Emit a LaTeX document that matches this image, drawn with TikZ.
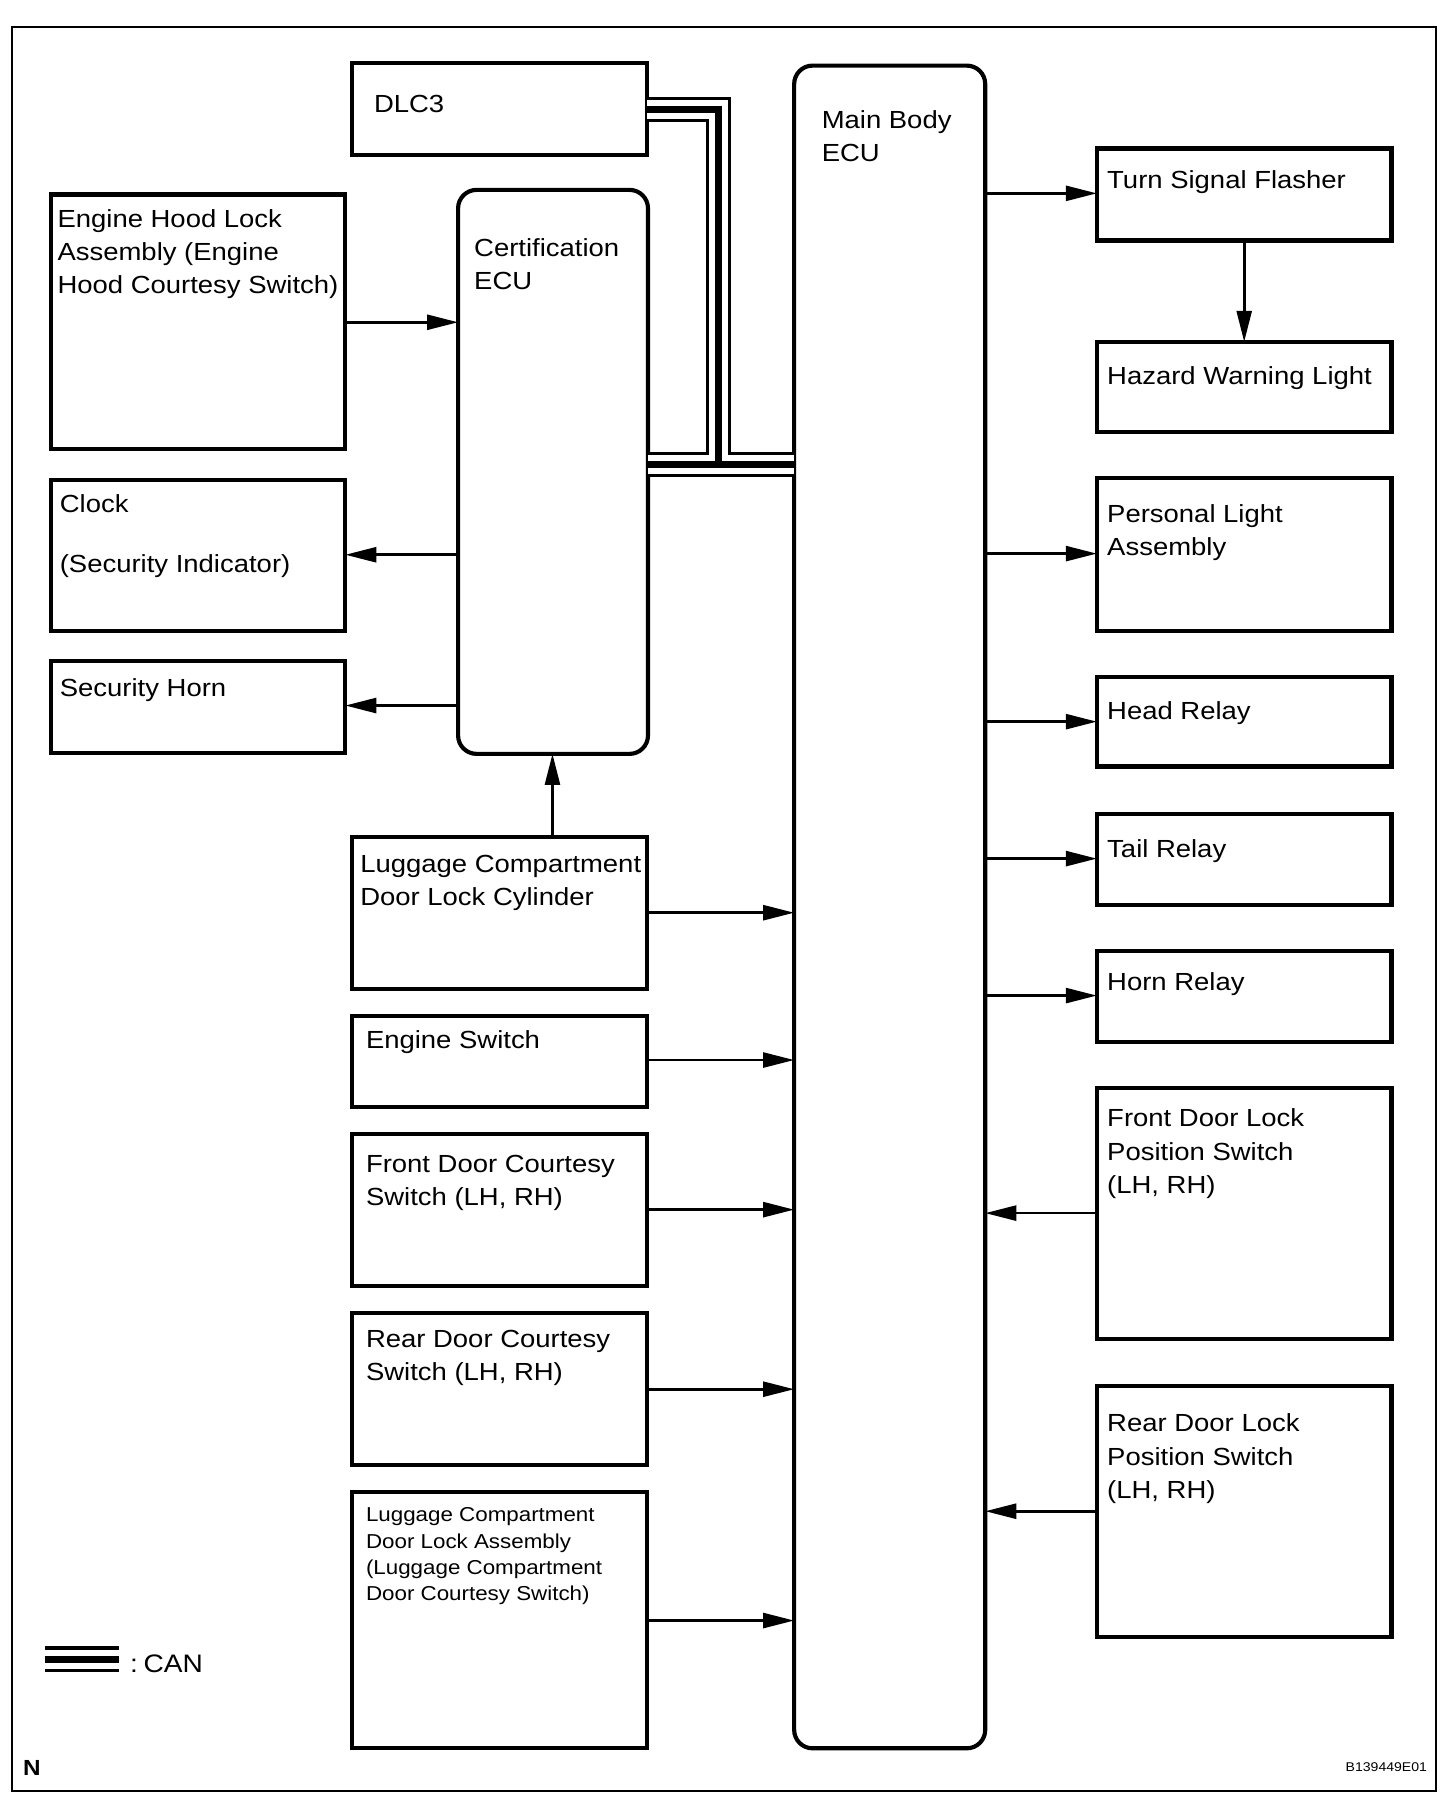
\documentclass[tikz,border=0pt]{standalone}
\usepackage{fontspec}
\setmainfont{Liberation Sans}[FakeStretch=1.11]
\usetikzlibrary{arrows.meta}
\newcommand\txtlines[1]{{\renewcommand\arraystretch{1}\begin{tabular}[t]{@{}l@{}}#1\end{tabular}}}
\newcommand\mkbox[6][box]{\node[#1, minimum width={#5-#3}, minimum height={#6-#4}] (#2) at (#3,#4) {};}
\begin{document}
\begin{tikzpicture}[x=1pt,y=-1pt,
  box/.style={draw, line width=3.6pt, inner sep=0pt, outer sep=0pt, anchor=north west},
  rbox/.style={box, rounded corners=16pt},
  txt/.style={inner sep=0pt, outer sep=0pt, anchor=base west, font=\fontsize{21.5}{28.5}\selectfont},
  smalltxt/.style={txt, font=\fontsize{17.5}{23}\selectfont},
  arr/.style={line width=2.4pt, -{Triangle[length=27pt,width=13pt]}},
  frame/.style={line width=2pt}
  ]
\useasboundingbox (0,0) rectangle (1265,1567.4);
\draw[frame] (10.5,23.5) rectangle (1247.5,1556);

% boxes
\mkbox{dlc}{306}{55}{562}{135}
\mkbox[rbox]{main}{690}{57}{856}{1519}
\mkbox[rbox]{cert}{398}{165}{563}{655}
\mkbox{ehood}{44}{169}{300}{390}
\mkbox{clock}{44}{417}{300}{548}
\mkbox{shorn}{44}{574}{300}{654}
\mkbox{lcyl}{306}{727}{562}{859}
\mkbox{esw}{306}{883}{562}{962}
\mkbox{fdcs}{306}{985}{562}{1117}
\mkbox{rdcs}{306}{1141}{562}{1273}
\mkbox{lasm}{306}{1296}{562}{1519}
\mkbox{tsf}{953}{129}{1209}{209}
\mkbox{hwl}{953}{297}{1209}{375}
\mkbox{pla}{953}{415}{1209}{548}
\mkbox{head}{953}{588}{1209}{666}
\mkbox{tail}{953}{707}{1209}{786}
\mkbox{horn}{953}{826}{1209}{905}
\mkbox{fdlp}{953}{945}{1209}{1163}
\mkbox{rdlp}{953}{1204}{1209}{1422}

% texts
\node[txt] (t-dlc) at (325,98) {DLC3};
\node[txt] (t-main) at (714,112) {\txtlines{Main Body\\ECU}};
\node[txt] (t-cert) at (412,223) {\txtlines{Certification\\ECU}};
\node[txt] (t-ehood) at (50,198) {\txtlines{Engine Hood Lock\\Assembly (Engine\\Hood Courtesy Switch)}};
\node[txt, font=\fontsize{21.5}{26}\selectfont] (t-clock) at (52,445) {\txtlines{Clock\\ \\(Security Indicator)}};
\node[txt] (t-shorn) at (52,605) {Security Horn};
\node[txt] (t-lcyl) at (313,758) {\txtlines{Luggage Compartment\\Door Lock Cylinder}};
\node[txt] (t-esw) at (318,911) {Engine Switch};
\node[txt] (t-fdcs) at (318,1019) {\txtlines{Front Door Courtesy\\Switch (LH, RH)}};
\node[txt] (t-rdcs) at (318,1171) {\txtlines{Rear Door Courtesy\\Switch (LH, RH)}};
\node[smalltxt] (t-lasm) at (318,1322) {\txtlines{Luggage Compartment\\Door Lock Assembly\\(Luggage Compartment\\Door Courtesy Switch)}};
\node[txt] (t-tsf) at (962,164) {Turn Signal Flasher};
\node[txt] (t-hwl) at (962,334) {Hazard Warning Light};
\node[txt] (t-pla) at (962,454) {\txtlines{Personal Light\\Assembly}};
\node[txt] (t-head) at (962,625) {Head Relay};
\node[txt] (t-tail) at (962,745) {Tail Relay};
\node[txt] (t-horn) at (962,861) {Horn Relay};
\node[txt, font=\fontsize{21.5}{29}\selectfont] (t-fdlp) at (962,979) {\txtlines{Front Door Lock\\Position Switch\\(LH, RH)}};
\node[txt, font=\fontsize{21.5}{29}\selectfont] (t-rdlp) at (962,1244) {\txtlines{Rear Door Lock\\Position Switch\\(LH, RH)}};

% arrows
\draw[arr] (ehood.east |- 0,280) -- (cert.west |- 0,280);
\draw[arr] (cert.west |- 0,482) -- (clock.east |- 0,482);
\draw[arr] (cert.west |- 0,613) -- (shorn.east |- 0,613);
\draw[arr] (lcyl.north -| 480,0) -- (cert.south -| 480,0);
\draw[arr] (lcyl.east |- 0,793) -- (main.west |- 0,793);
\draw[arr] (esw.east |- 0,921) -- (main.west |- 0,921);
\draw[arr] (fdcs.east |- 0,1051) -- (main.west |- 0,1051);
\draw[arr] (rdcs.east |- 0,1207) -- (main.west |- 0,1207);
\draw[arr] (lasm.east |- 0,1408) -- (main.west |- 0,1408);
\draw[arr] (main.east |- 0,168) -- (tsf.west |- 0,168);
\draw[arr] (tsf.south -| 1081,0) -- (hwl.north -| 1081,0);
\draw[arr] (main.east |- 0,481) -- (pla.west |- 0,481);
\draw[arr] (main.east |- 0,627) -- (head.west |- 0,627);
\draw[arr] (main.east |- 0,746) -- (tail.west |- 0,746);
\draw[arr] (main.east |- 0,865) -- (horn.west |- 0,865);
\draw[arr] (fdlp.west |- 0,1054) -- (main.east |- 0,1054);
\draw[arr] (rdlp.west |- 0,1313) -- (main.east |- 0,1313);

% CAN bus
\coordinate (busv) at (624.5,403.3);
\coordinate (lg1) at (39,1441.5);
\coordinate (lg2) at (103,1441.5);
\foreach \w/\c in {22/black,16.6/white,6/black}{
  \draw[line width=\w pt, \c, line join=miter] (dlc.east |- 0,95) -| (busv);
  \draw[line width=\w pt, \c] (cert.east |- busv) -- (main.west |- busv);
  \draw[line width=\w pt, \c] (lg1) -- (lg2);
}
\node[txt, font=\fontsize{22}{26}\selectfont] (t-can) at (113,1453.5) {:\hspace{5pt}CAN};
\node[txt, font=\fontsize{19}{20}\selectfont\bfseries] (t-n) at (20,1542.5) {N};
\node[inner sep=0pt, anchor=base east, font=\fontsize{11}{12}\selectfont] (t-code) at (1240,1539) {B139449E01};
\end{tikzpicture}
\end{document}
